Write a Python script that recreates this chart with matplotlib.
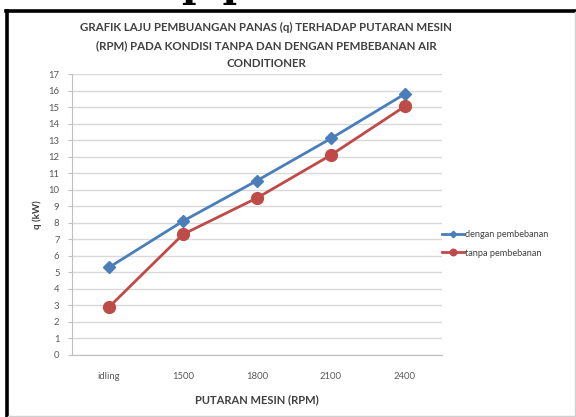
import matplotlib
matplotlib.use("Agg")
import matplotlib.pyplot as plt
from matplotlib.lines import Line2D

categories = ["idling", "1500", "1800", "2100", "2400"]
dengan = [5.3, 8.1, 10.55, 13.1, 15.8]
tanpa = [2.9, 7.3, 9.5, 12.1, 15.05]
yticks = list(range(0, 18))

plt.rcParams["font.family"] = ["Lato", "DejaVu Sans"]

fig = plt.figure(figsize=(5.76, 4.17), dpi=100)
W, H = 576, 417

# document frame (black on top/left, light grey right/bottom)
fig.add_artist(Line2D([6.5 / W, 6.5 / W], [0, 1 - 10.5 / H], color="black", lw=2.6, transform=fig.transFigure))
fig.add_artist(Line2D([5.5 / W, 1], [1 - 11 / H, 1 - 11 / H], color="black", lw=2.6, transform=fig.transFigure))
fig.add_artist(Line2D([575 / W, 575 / W], [1.5 / H, 1 - 12 / H], color="#d0d0d0", lw=1, transform=fig.transFigure))
fig.add_artist(Line2D([8 / W, 1], [1.5 / H, 1.5 / H], color="#d0d0d0", lw=1, transform=fig.transFigure))

# bottom of the document heading that is cut off above the chart
fig.text(216 / W, 1 + 3 / H, "p p", fontsize=28, family="DejaVu Serif", fontweight="bold",
         ha="center", va="baseline", color="black")

ax = fig.add_axes([72 / W, 1 - 355 / H, (442 - 72) / W, (355 - 74) / H])
x = list(range(len(categories)))
ax.plot(x, dengan, color="#4a7ebb", lw=2, marker="D", ms=6, label="dengan pembebanan")
ax.plot(x, tanpa, color="#be4b48", lw=2, marker="o", ms=8.5, label="tanpa pembebanan")

ax.set_xlim(-0.5, len(categories) - 0.5)
ax.set_ylim(0, 17)
ax.set_yticks(yticks)
ax.set_xticks(x)
ax.set_xticklabels(categories)
ax.tick_params(axis="both", labelsize=6.8, colors="#595959", length=0)
ax.tick_params(axis="y", pad=6, left=True, length=3, color="#bfbfbf")
ax.tick_params(axis="x", pad=12)
ax.grid(axis="y", color="#d9d9d9", lw=1)
ax.set_axisbelow(True)
for s in ["top", "right"]:
    ax.spines[s].set_visible(False)
for s in ["left", "bottom"]:
    ax.spines[s].set_color("#bfbfbf")

ax.set_ylabel("q (kW)", fontsize=7, fontweight="bold", color="#404040", labelpad=5)
ax.set_xlabel("PUTARAN MESIN (RPM)", fontsize=8, fontweight="bold", color="#404040", labelpad=10)

fig.text(266 / W, 1 - 22 / H,
         "GRAFIK LAJU PEMBUANGAN PANAS (q) TERHADAP PUTARAN MESIN\n"
         "(RPM) PADA KONDISI TANPA DAN DENGAN PEMBEBANAN AIR\n"
         "CONDITIONER",
         ha="center", va="top", fontsize=8.3, fontweight="bold", color="#404040", linespacing=1.75)

leg = fig.legend(handles=ax.get_lines(), loc="center left", bbox_to_anchor=(442 / W, 1 - 244 / H),
                 frameon=False, fontsize=6.6, handlelength=2.4, handletextpad=0.1,
                 labelspacing=1.0, markerscale=0.55, borderaxespad=0, borderpad=0)
for t in leg.get_texts():
    t.set_color("#404040")

fig.savefig("out.png", dpi=100)
